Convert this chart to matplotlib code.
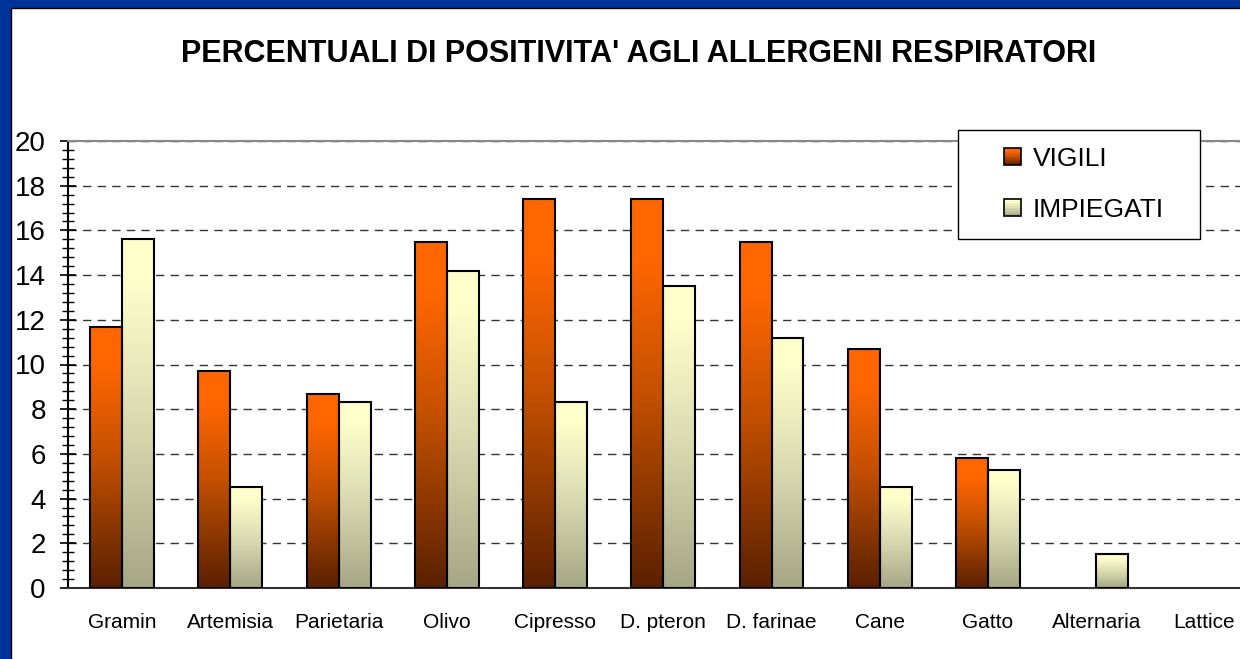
import numpy as np
import matplotlib
matplotlib.use("Agg")
import matplotlib.pyplot as plt
from matplotlib.patches import Rectangle, Patch
from matplotlib.colors import LinearSegmentedColormap
from matplotlib.legend_handler import HandlerBase
from matplotlib.ticker import MultipleLocator

plt.rcParams['font.family'] = ['Liberation Sans', 'DejaVu Sans']

# dati
categorie = ['Gramin', 'Artemisia', 'Parietaria', 'Olivo', 'Cipresso', 'D. pteron',
             'D. farinae', 'Cane', 'Gatto', 'Alternaria', 'Lattice']
vigili = [11.7, 9.7, 8.7, 15.5, 17.4, 17.4, 15.5, 10.7, 5.8, 0, 0]
impiegati = [15.6, 4.5, 8.3, 14.2, 8.3, 13.5, 11.2, 4.5, 5.3, 1.5, 0]
serie = ['VIGILI', 'IMPIEGATI']

# gradienti (0 = base, 1 = cima)
cmap_vig = LinearSegmentedColormap.from_list(
    'vig', [(0.0, '#5A2000'), (0.5, '#C45000'), (0.85, '#FF6600'), (1.0, '#FF6600')])
cmap_imp = LinearSegmentedColormap.from_list(
    'imp', [(0.0, '#A6A686'), (0.5, '#DCDCB4'), (0.88, '#FEFECA'), (1.0, '#FFFFCC')])

fig = plt.figure(figsize=(12.4, 6.59), dpi=100, facecolor='#003399')
# pannello bianco dentro la cornice blu
fig.patches.append(Rectangle((11 / 1240, -0.05), 1.0, 1 - 8 / 659 + 0.05,
                             transform=fig.transFigure, facecolor='white',
                             edgecolor='black', lw=1, zorder=-1))

ax = fig.add_axes([68 / 1240, 71 / 659, 1190.6 / 1240, 447 / 659])
ax.set_facecolor('white')

x = np.arange(len(categorie))
w = 0.295
grad = np.linspace(0, 1, 256).reshape(-1, 1)

for vals, cmap, off in [(vigili, cmap_vig, -w / 2), (impiegati, cmap_imp, w / 2)]:
    for xi, v in zip(x, vals):
        if v <= 0:
            continue
        x0 = xi + off - w / 2
        ax.imshow(grad, extent=[x0, x0 + w, 0, v], origin='lower', aspect='auto',
                  cmap=cmap, zorder=3, interpolation='bilinear')
    bars = ax.bar(x + off, vals, w, facecolor='none', edgecolor='black', lw=1.5, zorder=4)
    for b, v in zip(bars, vals):
        if v <= 0:
            b.set_visible(False)

ax.set_xlim(-0.5, 10.5)
ax.set_ylim(0, 20)
ax.yaxis.set_major_locator(MultipleLocator(2))
ax.yaxis.set_minor_locator(MultipleLocator(0.4))
ax.set_xticks(x)
ax.set_xticklabels(categorie, fontsize=15)
ax.tick_params(axis='x', length=0, pad=18)
ax.tick_params(axis='y', which='major', direction='inout', length=11, width=1.2,
               labelsize=20, pad=10.5)
ax.tick_params(axis='y', which='minor', direction='inout', length=8, width=1)

ax.yaxis.grid(True, which='major', color='#333333', lw=1, dashes=(6, 4.5))
ax.set_axisbelow(True)
for s in ax.get_ygridlines()[-1:]:
    s.set_visible(False)

ax.spines['left'].set_color('black')
ax.spines['left'].set_lw(1.5)
ax.spines['bottom'].set_color('#333333')
ax.spines['bottom'].set_lw(1.5)
ax.spines['top'].set_color('#888888')
ax.spines['top'].set_lw(1.5)
ax.spines['right'].set_visible(False)

fig.text(0.515, 0.918, "PERCENTUALI DI POSITIVITA' AGLI ALLERGENI RESPIRATORI",
         ha='center', va='center', fontsize=22, fontweight='bold')


class GradHandler(HandlerBase):
    def __init__(self, cmap, size):
        super().__init__()
        self.cmap = cmap
        self.size = size

    def create_artists(self, legend, orig_handle, xdescent, ydescent, width, height,
                       fontsize, trans):
        s = self.size
        x0 = -xdescent + width - s
        y0 = -ydescent + (height - s) / 2
        n = 10
        arts = []
        for i in range(n):
            arts.append(Rectangle((x0, y0 + i * s / n), s, s / n,
                                  facecolor=self.cmap((i + 0.5) / n),
                                  edgecolor='none', transform=trans))
        arts.append(Rectangle((x0, y0), s, s, facecolor='none', edgecolor='black',
                              lw=1.2, transform=trans))
        return arts


h_vig = Patch(label=serie[0])
h_imp = Patch(label=serie[1])
leg = ax.legend(handles=[h_vig, h_imp], labels=serie,
                handler_map={h_vig: GradHandler(cmap_vig, 12),
                             h_imp: GradHandler(cmap_imp, 12)},
                loc='upper left', bbox_to_anchor=(958 / 1240, 0.19, 242 / 1240, 1 - 130 / 659 - 0.19),
                bbox_transform=fig.transFigure, mode='expand', borderaxespad=0,
                fontsize=19, handlelength=1.74, handleheight=0.7, handletextpad=0.45,
                labelspacing=1.02, borderpad=0.64, fancybox=False, framealpha=1,
                edgecolor='black', facecolor='white')
leg.get_frame().set_linewidth(1)

fig.savefig('out.png', dpi=100, facecolor=fig.get_facecolor())
